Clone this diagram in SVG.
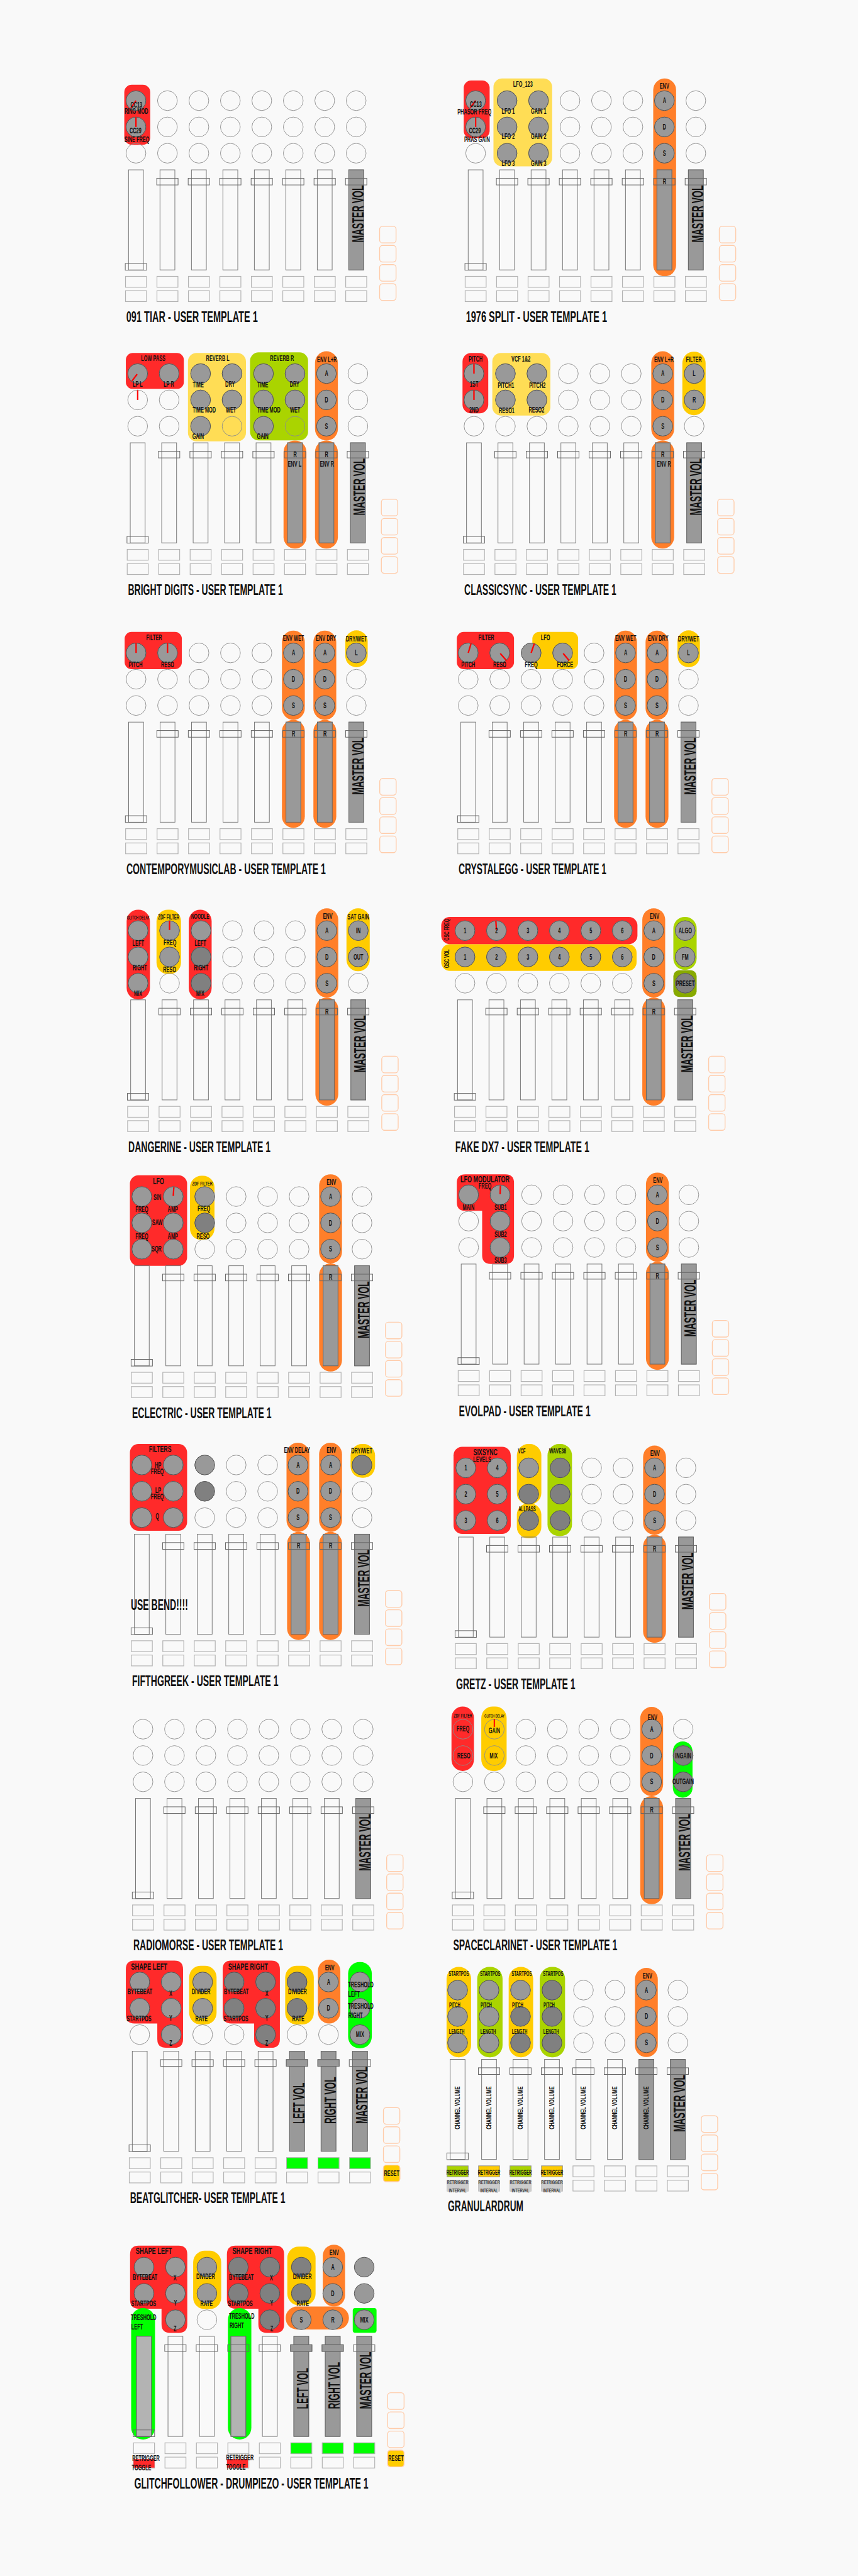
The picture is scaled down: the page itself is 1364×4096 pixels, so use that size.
<svg xmlns="http://www.w3.org/2000/svg" width="1364" height="4096" viewBox="0 0 1364 4096">
<style>
.k{fill:none;stroke:#8c8c8c;stroke-width:1}
.g{fill:#999;stroke:#4d4d4d;stroke-width:1}
.d{fill:#808080;stroke:#4d4d4d;stroke-width:1}
.f{fill:none;stroke:#777;stroke-width:1.1}
.gf{fill:#999;stroke:#666;stroke-width:1.1}
.lf{fill:#b3b3b3;stroke:#666;stroke-width:1.1}
.b{fill:none;stroke:#b3b3b3;stroke-width:1.3}
.sb{fill:none;stroke:#ffccaa;stroke-width:1.5}
.c{fill:none;stroke:#666;stroke-width:1.1}
.red{fill:#ff2a2a}.yl{fill:#ffdd55}.ys{fill:#ffcc00}.or{fill:#ff7f2a}.lg{fill:#aad400}.gr{fill:#00ff00}.ol{fill:#88aa00}
.p{stroke:#f00;stroke-width:2.5}
.t{font-family:"Liberation Sans",Arial,sans-serif;font-weight:bold;font-size:13.5px;text-anchor:middle;fill:#111;transform:scaleX(.6);transform-box:fill-box;transform-origin:center}
.T{font-family:"Liberation Sans",Arial,sans-serif;font-weight:bold;font-size:25.5px;fill:#111}
.v{font-family:"Liberation Sans",Arial,sans-serif;font-weight:bold;font-size:28px;fill:#111}
.vs{font-family:"Liberation Sans",Arial,sans-serif;font-weight:bold;font-size:11px;fill:#111;text-anchor:middle}
</style>
<defs>
<circle id="G" class="g" r="17.3"/>
<circle id="D" class="d" r="17.3"/>
<g id="kr" class="k"><circle r="17.3"/><circle cx="55" r="17.3"/><circle cx="110" r="17.3"/><circle cx="165" r="17.3"/><circle cx="220" r="17.3"/><circle cx="275" r="17.3"/><circle cx="330" r="17.3"/><circle cx="385" r="17.3"/></g>
<g id="kn"><use href="#kr"/><use href="#kr" y="46"/><use href="#kr" y="92"/></g>
<g id="col"><rect class="f" x="-13" y="121" width="26" height="175"/><rect class="b" x="-18.3" y="307.3" width="36.7" height="19"/><rect class="b" x="-18.3" y="332.3" width="36.7" height="19"/></g>
<g id="fa"><use href="#col"/><use href="#col" x="55"/><use href="#col" x="110"/><use href="#col" x="165"/><use href="#col" x="220"/><use href="#col" x="275"/><use href="#col" x="330"/><use href="#col" x="385"/>
<g class="sb"><rect x="426" y="219.7" width="28.7" height="29" rx="5"/><rect x="426" y="253.2" width="28.7" height="29" rx="5"/><rect x="426" y="286.7" width="28.7" height="29" rx="5"/><rect x="426" y="320.2" width="28.7" height="29" rx="5"/></g></g>
<g id="cp" class="c"><rect x="-18.7" y="284.7" width="37.3" height="11.7"/><rect x="36.3" y="135.7" width="37.3" height="11.7"/><rect x="91.3" y="135.7" width="37.3" height="11.7"/><rect x="146.3" y="135.7" width="37.3" height="11.7"/><rect x="201.3" y="135.7" width="37.3" height="11.7"/><rect x="256.3" y="135.7" width="37.3" height="11.7"/><rect x="311.3" y="135.7" width="37.3" height="11.7"/><rect x="366.3" y="135.7" width="37.3" height="11.7"/></g>
<rect id="gfd" class="gf" x="-13" y="121" width="26" height="175"/>
<g id="mv"><rect class="gf" x="372" y="121" width="26" height="175"/><text class="v" transform="translate(397.5 248) rotate(-90)" textLength="100" lengthAdjust="spacingAndGlyphs">MASTER VOL</text></g>
<g id="ads"><use href="#G"/><use href="#G" y="46"/><use href="#G" y="92"/><text class="t" y="4.6">A</text><text class="t" y="50.6">D</text><text class="t" y="96.6">S</text></g>
<g id="env3"><rect class="or" x="-20" y="-39" width="40" height="156" rx="20"/><use href="#ads"/></g>
<g id="ef"><rect class="or" x="-20" y="117" width="40" height="189" rx="20"/><use href="#gfd"/></g>
<path id="shL" class="red" d="M-9.3-37.4H60.7Q75.7-37.4 75.7-22.4V100Q75.7 115 60.7 115H45.7Q30.7 115 30.7 100V72.6H-9.3Q-24.3 72.6-24.3 57.6V-22.4Q-24.3-37.4-9.3-37.4Z"/>
<text id="cvt" class="vs" transform="translate(4 205.8) rotate(-90)" textLength="75" lengthAdjust="spacingAndGlyphs" style="font-size:12px">CHANNEL VOLUME</text>
</defs>
<rect width="1364" height="4096" fill="#f9f9f9"/>
<g transform="scale(0.909333)">

<g id="p1" transform="translate(237.7 176)">
<rect class="red" x="-20.4" y="-27.7" width="45.4" height="105" rx="13"/>
<use href="#kn"/><use href="#fa"/><use href="#mv"/><use href="#cp"/>
<use href="#G"/><use href="#G" y="46"/>
<line class="p" x1="0" y1="0" x2="-9" y2="13"/><line class="p" x1="0" y1="29" x2="0" y2="46"/>
<text class="t" x="0.6" y="11.9">CC13</text><text class="t" x="0.6" y="23.6">RING MOD</text><text class="t" x="-1" y="56.9">CC29</text><text class="t" x="1.6" y="72.6">SINE FREQ</text>
<text class="T" x="-17" y="387" textLength="230" lengthAdjust="spacingAndGlyphs">091 TIAR - USER TEMPLATE 1</text>
</g>

<g id="p2" transform="translate(831.5 176)">
<rect class="red" x="-20.8" y="-35.3" width="45.3" height="101" rx="13"/>
<rect class="yl" x="31.2" y="-38.7" width="102.6" height="153.7" rx="15"/>
<rect class="or" x="310.5" y="-38.7" width="40" height="346" rx="20"/>
<use href="#kn"/><use href="#fa"/><use href="#gfd" x="330"/><use href="#mv"/><use href="#cp"/>
<use href="#G"/><use href="#G" y="46"/>
<line class="p" x1="0" y1="0" x2="-9.5" y2="12.5"/><line class="p" x1="0" y1="29" x2="0" y2="46"/>
<text class="t" x="0.2" y="11.3">CC13</text><text class="t" x="-2.2" y="24.6">PHASOR FREQ</text><text class="t" x="-1.5" y="56.9">CC29</text><text class="t" x="2.5" y="72.6">PHAS GAIN</text>
<text class="t" x="82.5" y="-23.7">LFO_123</text>
<use href="#G" x="55"/><use href="#G" x="110"/><use href="#G" x="55" y="46"/><use href="#G" x="110" y="46"/><use href="#G" x="55" y="92"/><use href="#G" x="110" y="92"/>
<text class="t" x="57" y="23.6">LFO 1</text><text class="t" x="110" y="23.6">GAIN 1</text><text class="t" x="57" y="66.9">LFO 2</text><text class="t" x="110" y="66.9">GAIN 2</text><text class="t" x="57" y="114.3">LFO 3</text><text class="t" x="110" y="114.3">GAIN 3</text>
<text class="t" x="330" y="-20.7">ENV</text><use href="#ads" x="330"/>
<text class="t" x="330" y="146.1">R</text>
<text class="T" x="-17" y="387" textLength="246.7" lengthAdjust="spacingAndGlyphs">1976 SPLIT - USER TEMPLATE 1</text>
</g>

<g id="p3" transform="translate(240.7 653.3)">
<rect class="red" x="-20.7" y="-36" width="101.4" height="62.7" rx="12"/>
<rect class="yl" x="87.9" y="-36" width="101.4" height="154.4" rx="15"/>
<rect class="lg" x="196.4" y="-37.3" width="101.5" height="154" rx="15"/>
<use href="#kn"/><use href="#fa"/><use href="#ef" x="275"/><use href="#ef" x="330"/><use href="#mv"/><use href="#cp"/>
<use href="#env3" x="330"/><text class="t" x="330.7" y="-20.4">ENV L+R</text>
<use href="#G"/><use href="#G" x="55"/>
<line class="p" x1="-1" y1="1" x2="-10" y2="13"/><line class="p" x1="0" y1="29" x2="0" y2="46"/>
<text class="t" x="27.2" y="-22.1">LOW PASS</text><text class="t" x="0" y="23">LP L</text><text class="t" x="54.3" y="23">LP R</text>
<use href="#G" x="110"/><use href="#G" x="165"/><use href="#G" x="110" y="46"/><use href="#G" x="165" y="46"/><use href="#G" x="110" y="92"/>
<text class="t" x="140" y="-22.1">REVERB L</text>
<text class="t" x="105.7" y="24">TIME</text><text class="t" x="161.4" y="23">DRY</text><text class="t" x="116.4" y="68">TIME MOD</text><text class="t" x="162.9" y="68">WET</text><text class="t" x="105.7" y="114.6">GAIN</text>
<use href="#G" x="220"/><use href="#G" x="275"/><use href="#G" x="220" y="46"/><use href="#G" x="275" y="46"/><use href="#G" x="220" y="92"/>
<text class="t" x="252.2" y="-22.1">REVERB R</text>
<text class="t" x="218.6" y="24">TIME</text><text class="t" x="274.3" y="23">DRY</text><text class="t" x="229.3" y="68">TIME MOD</text><text class="t" x="275" y="68">WET</text><text class="t" x="218.6" y="114.6">GAIN</text>
<text class="t" x="275" y="146.1">R</text><text class="t" x="330" y="146.1">R</text>
<text class="t" x="274.3" y="163">ENV L</text><text class="t" x="330.7" y="163">ENV R</text>
<text class="T" x="-17" y="387" textLength="271" lengthAdjust="spacingAndGlyphs">BRIGHT DIGITS - USER TEMPLATE 1</text>
</g>

<g id="p4" transform="translate(828.6 653.3)">
<rect class="red" x="-20" y="-36" width="45" height="105.4" rx="15"/>
<rect class="yl" x="32.1" y="-36" width="101.5" height="109.4" rx="15"/>
<rect class="ys" x="364.3" y="-38.3" width="40.7" height="111" rx="20"/>
<use href="#kn"/><use href="#fa"/><use href="#ef" x="330"/><use href="#mv"/><use href="#cp"/>
<use href="#env3" x="330"/><text class="t" x="332" y="-20.4">ENV L+R</text>
<use href="#G"/><use href="#G" y="46"/>
<line class="p" x1="0" y1="-17" x2="0" y2="0"/><line class="p" x1="0" y1="29" x2="0" y2="46"/>
<text class="t" x="2.9" y="-21.1">PITCH</text><text class="t" y="23">1ST</text><text class="t" y="68">2ND</text>
<use href="#G" x="55"/><use href="#G" x="110"/><use href="#G" x="55" y="46"/><use href="#G" x="110" y="46"/>
<text class="t" x="82.1" y="-21.1">VCF 1&amp;2</text>
<text class="t" x="55.7" y="25.6">PITCH1</text><text class="t" x="110.7" y="25.6">PITCH2</text><text class="t" x="57.1" y="69">RESO1</text><text class="t" x="109.3" y="68">RESO2</text>
<text class="t" x="384.3" y="-20.4">FILTER</text>
<use href="#G" x="385"/><use href="#G" x="385" y="46"/><text class="t" x="385" y="4.6">L</text><text class="t" x="385" y="50.6">R</text>
<text class="t" x="330" y="146.1">R</text><text class="t" x="332" y="163">ENV R</text>
<text class="T" x="-17" y="387" textLength="266" lengthAdjust="spacingAndGlyphs">CLASSICSYNC - USER TEMPLATE 1</text>
</g>

<g id="p5" transform="translate(237.9 1141.7)">
<rect class="red" x="-20" y="-36.7" width="100" height="65" rx="12"/>
<rect class="ys" x="365.7" y="-39.4" width="39.2" height="64.4" rx="19.6"/>
<use href="#kn"/><use href="#fa"/><use href="#ef" x="275"/><use href="#ef" x="330"/><use href="#mv"/><use href="#cp"/>
<use href="#env3" x="275"/><use href="#env3" x="330"/>
<text class="t" x="275" y="-21.4">ENV WET</text><text class="t" x="332" y="-21.4">ENV DRY</text>
<use href="#G"/><use href="#G" x="55"/>
<line class="p" x1="0" y1="-17" x2="0" y2="0"/><line class="p" x1="55" y1="-17" x2="55" y2="0"/>
<text class="t" x="31.4" y="-22.1">FILTER</text><text class="t" x="-0.8" y="24.6">PITCH</text><text class="t" x="55" y="24.6">RESO</text>
<text class="t" x="385" y="-20.4">DRY/WET</text><use href="#G" x="385"/><text class="t" x="385" y="4.6">L</text>
<text class="t" x="275" y="146.1">R</text><text class="t" x="330" y="146.1">R</text>
<text class="T" x="-17" y="387" textLength="348.6" lengthAdjust="spacingAndGlyphs">CONTEMPORYMUSICLAB - USER TEMPLATE 1</text>
</g>

<g id="p6" transform="translate(818.6 1141.7)">
<rect class="red" x="-20" y="-36.7" width="100" height="65" rx="12"/>
<rect class="ys" x="112.1" y="-36.7" width="80" height="65" rx="12"/>
<rect class="ys" x="365.7" y="-39.4" width="39.3" height="64.4" rx="19.6"/>
<use href="#kn"/><use href="#fa"/><use href="#ef" x="275"/><use href="#ef" x="330"/><use href="#mv"/><use href="#cp"/>
<use href="#env3" x="275"/><use href="#env3" x="330"/>
<text class="t" x="275" y="-21.4">ENV WET</text><text class="t" x="332" y="-21.4">ENV DRY</text>
<use href="#G"/><use href="#G" x="55"/><use href="#G" x="110"/><use href="#G" x="165"/>
<line class="p" x1="0" y1="0" x2="5" y2="-16.5"/><line class="p" x1="56" y1="1" x2="67" y2="13.5"/><line class="p" x1="110" y1="0" x2="115.5" y2="-16.3"/><line class="p" x1="166" y1="1" x2="176.5" y2="13.5"/>
<text class="t" x="31.4" y="-22.1">FILTER</text><text class="t" y="24.6">PITCH</text><text class="t" x="55" y="24.6">RESO</text>
<text class="t" x="135" y="-22.1">LFO</text><text class="t" x="110" y="24.6">FREQ</text><text class="t" x="169.3" y="24.6">FORCE</text>
<text class="t" x="385" y="-20.4">DRY/WET</text><use href="#G" x="385"/><text class="t" x="385" y="4.6">L</text>
<text class="t" x="275" y="146.1">R</text><text class="t" x="330" y="146.1">R</text>
<text class="T" x="-17" y="387" textLength="258.6" lengthAdjust="spacingAndGlyphs">CRYSTALEGG - USER TEMPLATE 1</text>
</g>

<g id="p7" transform="translate(241.4 1627.3)">
<rect class="red" x="-20" y="-36.6" width="40.7" height="157" rx="20"/>
<rect class="ys" x="32.2" y="-36.6" width="42.8" height="112.6" rx="20"/>
<rect class="red" x="88.6" y="-36.6" width="40" height="157" rx="20"/>
<rect class="ys" x="364.3" y="-39" width="40.7" height="110" rx="20"/>
<use href="#kn"/><use href="#fa"/><use href="#ef" x="330"/><use href="#mv"/><use href="#cp"/>
<use href="#env3" x="330"/><text class="t" x="331.5" y="-20.4">ENV</text>
<use href="#G"/><use href="#G" y="46"/><use href="#G" y="92"/>
<text class="t" y="-20" style="font-size:9px">GLITCH DELAY</text>
<text class="t" y="26.3">LEFT</text><text class="t" x="2.9" y="69.6">RIGHT</text><text class="t" y="115">MIX</text>
<use href="#G" x="55"/><use href="#G" x="55" y="46"/><line class="p" x1="55" y1="-17" x2="55" y2="-1"/>
<text class="t" x="53.6" y="-20" style="font-size:11px">ZDF FILTER</text>
<text class="t" x="55.7" y="25.6">FREQ</text><text class="t" x="55" y="73.3">RESO</text>
<use href="#G" x="110"/><use href="#D" x="110" y="46"/><use href="#D" x="110" y="92"/>
<text class="t" x="108.6" y="-21" style="font-size:12.5px">NOODLE</text>
<text class="t" x="108.6" y="26.3">LEFT</text><text class="t" x="110" y="69.6">RIGHT</text><text class="t" x="108.6" y="115">MIX</text>
<text class="t" x="385" y="-20">SAT GAIN</text>
<use href="#G" x="385"/><use href="#G" x="385" y="46"/><text class="t" x="385" y="4.6">IN</text><text class="t" x="385" y="50.6">OUT</text>
<text class="t" x="330" y="146.1">R</text>
<text class="T" x="-17" y="387" textLength="248.6" lengthAdjust="spacingAndGlyphs">DANGERINE - USER TEMPLATE 1</text>
</g>

<g id="p8" transform="translate(812.9 1627.3)">
<rect class="ys" x="-41.5" y="23.7" width="341.5" height="46.6" rx="15"/>
<rect class="red" x="-41.5" y="-24" width="343" height="47.7" rx="15"/>
<rect class="lg" x="364.3" y="-24" width="40.7" height="92.7" rx="20"/>
<rect class="ol" x="364.3" y="69.4" width="40.7" height="46.6" rx="10"/>
<use href="#kn"/><use href="#fa"/><use href="#ef" x="330"/><use href="#mv"/><use href="#cp"/>
<use href="#env3" x="330"/><text class="t" x="331.4" y="-20.4">ENV</text>
<use href="#G"/><use href="#G" x="55"/><use href="#G" x="110"/><use href="#G" x="165"/><use href="#G" x="220"/><use href="#G" x="275"/>
<use href="#G" y="46"/><use href="#G" x="55" y="46"/><use href="#G" x="110" y="46"/><use href="#G" x="165" y="46"/><use href="#G" x="220" y="46"/><use href="#G" x="275" y="46"/>
<line class="p" x1="54" y1="-17" x2="55" y2="-1"/>
<text class="t" y="4.6">1</text><text class="t" x="55" y="4.6">2</text><text class="t" x="110" y="4.6">3</text><text class="t" x="165" y="4.6">4</text><text class="t" x="220" y="4.6">5</text><text class="t" x="275" y="4.6">6</text>
<text class="t" y="50.6">1</text><text class="t" x="55" y="50.6">2</text><text class="t" x="110" y="50.6">3</text><text class="t" x="165" y="50.6">4</text><text class="t" x="220" y="50.6">5</text><text class="t" x="275" y="50.6">6</text>
<text class="vs" transform="translate(-28 -1.5) rotate(-90)" textLength="38" lengthAdjust="spacingAndGlyphs">OSC FREQ</text>
<text class="vs" transform="translate(-28 49) rotate(-90)" textLength="33" lengthAdjust="spacingAndGlyphs">OSC VOL</text>
<use href="#G" x="385"/><use href="#G" x="385" y="46"/><use href="#D" x="385" y="92"/>
<text class="t" x="385" y="4.6">ALGO</text><text class="t" x="385" y="50.6">FM</text><text class="t" x="385" y="96.6">PRESET</text>
<text class="t" x="330" y="146.1">R</text>
<text class="T" x="-17" y="387" textLength="234.3" lengthAdjust="spacingAndGlyphs">FAKE DX7 - USER TEMPLATE 1</text>
</g>

<g id="p9" transform="translate(247.9 2092.3)">
<rect class="red" x="-20.8" y="-37.3" width="100" height="158.3" rx="15"/>
<rect class="ys" x="84.2" y="-36.3" width="42.9" height="112.3" rx="20"/>
<use href="#kn"/><use href="#fa"/><use href="#ef" x="330"/><use href="#mv"/><use href="#cp"/>
<use href="#env3" x="330"/><text class="t" x="331.4" y="-20.4">ENV</text>
<use href="#G"/><use href="#G" x="55"/><use href="#G" y="46"/><use href="#G" x="55" y="46"/><use href="#G" y="92"/><use href="#G" x="55" y="92"/>
<line class="p" x1="56" y1="-16" x2="55" y2="-1"/>
<text class="t" x="29.2" y="-21.6" style="font-size:16px">LFO</text>
<text class="t" x="27.1" y="5.6">SIN</text><text class="t" y="27.3">FREQ</text><text class="t" x="54.2" y="27.3">AMP</text>
<text class="t" x="27.1" y="49.6">SAW</text><text class="t" y="74.6">FREQ</text><text class="t" x="54.2" y="74.6">AMP</text><text class="t" x="25.7" y="96.6">SQR</text>
<use href="#G" x="110"/><use href="#D" x="110" y="46"/>
<text class="t" x="105.7" y="-19.4" style="font-size:10.5px">ZDF FILTER</text>
<text class="t" x="108.5" y="25.6">FREQ</text><text class="t" x="107.1" y="74.6">RESO</text>
<text class="t" x="330" y="146.1">R</text>
<text class="T" x="-17" y="387" textLength="243.6" lengthAdjust="spacingAndGlyphs">ECLECTRIC - USER TEMPLATE 1</text>
</g>

<g id="p10" transform="translate(819.3 2089.3)">
<path class="red" d="M-5.7-36H64.3Q79.3-36 79.3-21V105.7Q79.3 120.7 64.3 120.7H38.6Q23.6 120.7 23.6 105.7V28H-5.7Q-20.7 28-20.7 13V-21Q-20.7-36-5.7-36Z"/>
<use href="#kn"/><use href="#fa"/><use href="#ef" x="330"/><use href="#mv"/><use href="#cp"/>
<use href="#env3" x="330"/><text class="t" x="330.7" y="-20.7">ENV</text>
<use href="#G"/><use href="#G" x="55"/><use href="#G" x="55" y="46"/><use href="#G" x="55" y="92"/>
<line class="p" x1="55.5" y1="-16" x2="55" y2="-1"/>
<text class="t" x="28.6" y="-21.5" style="font-size:16.5px">LFO MODULATOR</text>
<text class="t" x="28.6" y="-10.4">FREQ</text><text class="t" y="27">MAIN</text><text class="t" x="55.7" y="27">SUB1</text><text class="t" x="55.7" y="73.6">SUB2</text><text class="t" x="55.7" y="119.3">SUB3</text>
<text class="t" x="330" y="146.1">R</text>
<text class="T" x="-17" y="387" textLength="230" lengthAdjust="spacingAndGlyphs">EVOLPAD - USER TEMPLATE 1</text>
</g>

<g id="p11" transform="translate(247.9 2561.7)">
<rect class="red" x="-20.8" y="-36.7" width="100" height="151.7" rx="15"/>
<rect class="ys" x="365" y="-36.7" width="42.8" height="59" rx="20"/>
<use href="#kn"/><use href="#fa"/><use href="#ef" x="274"/><use href="#ef" x="330"/><use href="#mv"/><use href="#cp"/>
<use href="#env3" x="273"/><use href="#env3" x="330"/>
<text class="t" x="271.4" y="-21.1">ENV DELAY</text><text class="t" x="331.4" y="-21.1">ENV</text>
<use href="#G"/><use href="#G" x="55"/><use href="#G" y="46"/><use href="#G" x="55" y="46"/><use href="#G" y="92"/><use href="#G" x="55" y="92"/>
<text class="t" x="32.1" y="-22" style="font-size:16px">FILTERS</text>
<text class="t" x="28.5" y="4.6">HP</text><text class="t" x="27.1" y="16.2">FREQ</text><text class="t" x="28.5" y="48.9">LP</text><text class="t" x="27.1" y="60.2">FREQ</text><text class="t" x="27.1" y="94.6">Q</text>
<use href="#G" x="110"/><use href="#D" x="110" y="46"/>
<text class="t" x="384.3" y="-20.4">DRY/WET</text><use href="#D" x="385"/>
<text class="t" x="274" y="146.1">R</text><text class="t" x="330" y="146.1">R</text>
<text class="T" x="-19.3" y="253.3" textLength="100" lengthAdjust="spacingAndGlyphs">USE BEND!!!!</text>
<text class="T" x="-17" y="387" textLength="255.7" lengthAdjust="spacingAndGlyphs">FIFTHGREEK - USER TEMPLATE 1</text>
</g>

<g id="p12" transform="translate(814.3 2566.7)">
<rect class="red" x="-21.4" y="-36.7" width="100" height="152.3" rx="15"/>
<rect class="ys" x="89.3" y="-41.7" width="42.8" height="105.7" rx="20"/>
<rect class="ys" x="89.3" y="62" width="42.8" height="61.3" rx="20"/>
<rect class="lg" x="142.9" y="-41.7" width="42.8" height="161" rx="20"/>
<use href="#kn"/><use href="#fa"/><use href="#ef" x="330"/><use href="#mv"/><use href="#cp"/>
<use href="#env3" x="330"/><text class="t" x="330.7" y="-20.4">ENV</text>
<use href="#G"/><use href="#G" x="55"/><use href="#G" y="46"/><use href="#G" x="55" y="46"/><use href="#G" y="92"/><use href="#G" x="55" y="92"/>
<text class="t" y="4.6">1</text><text class="t" x="55" y="4.6">4</text><text class="t" y="50.6">2</text><text class="t" x="55" y="50.6">5</text><text class="t" y="96.6">3</text><text class="t" x="55" y="96.6">6</text>
<text class="t" x="34.3" y="-21.8" style="font-size:16px">SIXSYNC</text><text class="t" x="28.6" y="-10.4">LEVELS</text>
<use href="#G" x="110"/><use href="#D" x="110" y="46"/><use href="#D" x="110" y="92"/>
<text class="t" x="97.9" y="-25.4" style="font-size:11px">VCF</text><text class="t" x="107.1" y="76.2" style="font-size:11px">ALLPASS</text>
<use href="#D" x="165"/><use href="#D" x="165" y="46"/><use href="#D" x="165" y="92"/>
<text class="t" x="160.7" y="-24.8" style="font-size:12.5px">WAVE38</text>
<text class="t" x="330" y="146.1">R</text>
<text class="T" x="-17" y="387" textLength="208.6" lengthAdjust="spacingAndGlyphs">GRETZ - USER TEMPLATE 1</text>
</g>

<g id="p13" transform="translate(250 3023.7)">
<use href="#kn"/><use href="#fa"/><use href="#mv"/><use href="#cp"/>
<text class="T" x="-17" y="387" textLength="262" lengthAdjust="spacingAndGlyphs">RADIOMORSE - USER TEMPLATE 1</text>
</g>

<g id="p14" transform="translate(809.3 3023.7)">
<rect class="red" x="-20" y="-39.7" width="39.3" height="112.7" rx="19.6"/>
<rect class="ys" x="32.1" y="-39.7" width="44.3" height="112.7" rx="20"/>
<rect class="gr" x="367.1" y="21.3" width="34.3" height="98.4" rx="17"/>
<use href="#kn"/><use href="#fa"/><use href="#ef" x="330"/><use href="#mv"/><use href="#cp"/>
<use href="#env3" x="330"/><text class="t" x="331.4" y="-15.8">ENV</text>
<text class="t" y="-20.8" style="font-size:9.5px">ZDF FILTER</text><text class="t" y="4.2">FREQ</text><text class="t" x="1.4" y="51.6">RESO</text>
<line class="p" x1="55" y1="-18" x2="55" y2="-4"/>
<text class="t" x="55" y="-20.8" style="font-size:8px">GLITCH DELAY</text><text class="t" x="55" y="7.6">GAIN</text><text class="t" x="53.6" y="51.6">MIX</text>
<use href="#D" x="385" y="46"/><use href="#D" x="385" y="92"/>
<text class="t" x="385" y="50.6">INGAIN</text><text class="t" x="385" y="96.6">OUTGAIN</text>
<text class="t" x="330" y="146.1">R</text>
<text class="T" x="-17" y="387" textLength="287" lengthAdjust="spacingAndGlyphs">SPACECLARINET - USER TEMPLATE 1</text>
</g>

<g id="p15" transform="translate(244.3 3465.7)">
<use href="#shL"/>
<rect class="ys" x="86.4" y="-28.4" width="47.9" height="102.7" rx="20"/>
<use href="#shL" x="169.3"/>
<rect class="ys" x="254.3" y="-28.4" width="50" height="102.7" rx="20"/>
<rect class="or" x="311.4" y="-39" width="39.3" height="111.6" rx="19.6"/>
<rect class="gr" x="364.3" y="-35" width="41.4" height="151" rx="20"/>
<use href="#kn"/><use href="#fa"/><use href="#gfd" x="275"/><use href="#gfd" x="330"/><use href="#mv"/><use href="#cp"/>
<rect class="gf" x="256.3" y="135.7" width="37.3" height="11.7"/><rect class="gf" x="311.3" y="135.7" width="37.3" height="11.7"/>
<text class="v" transform="translate(287.5 248) rotate(-90)" textLength="72" lengthAdjust="spacingAndGlyphs">LEFT VOL</text>
<text class="v" transform="translate(342.5 248) rotate(-90)" textLength="82" lengthAdjust="spacingAndGlyphs">RIGHT VOL</text>
<use href="#G"/><use href="#G" x="55"/><use href="#G" y="46"/><use href="#G" x="55" y="46"/><use href="#G" x="55" y="92"/>
<text class="t" x="16.4" y="-21.7" style="font-size:17px">SHAPE LEFT</text>
<text class="t" y="21.6">BYTEBEAT</text><text class="t" x="54.3" y="24.9">X</text><text class="t" x="-1.4" y="68.9">STARTPOS</text><text class="t" x="54.3" y="67.2">Y</text><text class="t" x="54.3" y="112.2">Z</text>
<use href="#G" x="110"/><use href="#G" x="110" y="46"/>
<text class="t" x="107.1" y="21.6">DIVIDER</text><text class="t" x="107.9" y="68.9">RATE</text>
<use href="#D" x="165"/><use href="#D" x="165" y="46"/><use href="#D" x="220"/><use href="#D" x="220" y="46"/><use href="#D" x="220" y="92"/>
<text class="t" x="189.3" y="-21.7" style="font-size:17px">SHAPE RIGHT</text>
<text class="t" x="168.6" y="21.6">BYTEBEAT</text><text class="t" x="222.1" y="24.9">X</text><text class="t" x="167.9" y="68.9">STARTPOS</text><text class="t" x="222.1" y="67.2">Y</text><text class="t" x="222.1" y="112.2">Z</text>
<use href="#D" x="275"/><use href="#D" x="275" y="46"/>
<text class="t" x="275.7" y="21.6">DIVIDER</text><text class="t" x="277.1" y="68.9">RATE</text>
<use href="#G" x="330"/><use href="#G" x="330" y="46"/>
<text class="t" x="332.1" y="-20.4">ENV</text><text class="t" x="330" y="4.6">A</text><text class="t" x="330" y="50.6">D</text>
<use href="#G" x="385"/><use href="#G" x="385" y="46"/><use href="#G" x="385" y="92"/>
<text class="t" x="386.4" y="8.9">TRESHOLD</text><text class="t" x="374.3" y="25.6">LEFT</text><text class="t" x="386.4" y="46.6">TRESHOLD</text><text class="t" x="377" y="63.2">RIGHT</text><text class="t" x="385" y="96.6">MIX</text>
<rect class="gr" x="256.7" y="307.3" width="36.7" height="19" stroke="#b3b3b3"/><rect class="gr" x="311.7" y="307.3" width="36.7" height="19" stroke="#b3b3b3"/><rect class="gr" x="366.7" y="307.3" width="36.7" height="19" stroke="#b3b3b3"/>
<rect class="ys" x="426" y="320.2" width="28.7" height="29" rx="5" stroke="#ffccaa" stroke-width="1.5"/>
<text class="t" x="440.3" y="339.3">RESET</text>
<text class="T" x="-17" y="387" textLength="271.4" lengthAdjust="spacingAndGlyphs">BEATGLITCHER- USER TEMPLATE 1</text>
</g>

<g id="p16" transform="translate(800 3480)">
<rect class="ys" x="-19.3" y="-40.7" width="42.9" height="158" rx="21"/>
<rect class="lg" x="34.3" y="-40.7" width="44.3" height="158" rx="21"/>
<rect class="ys" x="89.3" y="-40.7" width="42.8" height="158" rx="21"/>
<rect class="lg" x="143.6" y="-40.7" width="44.3" height="158" rx="21"/>
<use href="#kn"/><use href="#fa"/><use href="#gfd" x="330"/><use href="#mv"/><use href="#cp"/>
<use href="#env3" x="330"/><text class="t" x="332" y="-20.4">ENV</text>
<use href="#G"/><use href="#G" y="46"/><use href="#G" y="92"/><use href="#G" x="55"/><use href="#G" x="55" y="46"/><use href="#G" x="55" y="92"/><use href="#G" x="110"/>
<use href="#D" x="110" y="46"/><use href="#D" x="110" y="92"/><use href="#D" x="165"/><use href="#D" x="165" y="46"/><use href="#D" x="165" y="92"/>
<g style="font-size:11px">
<text class="t" x="2" y="-24.4" style="font-size:11px">STARTPOS</text><text class="t" x="57" y="-24.4" style="font-size:11px">STARTPOS</text><text class="t" x="112" y="-24.4" style="font-size:11px">STARTPOS</text><text class="t" x="167" y="-24.4" style="font-size:11px">STARTPOS</text>
<text class="t" x="-5" y="30.6" style="font-size:11px">PITCH</text><text class="t" x="50" y="30.6" style="font-size:11px">PITCH</text><text class="t" x="105" y="30.6" style="font-size:11px">PITCH</text><text class="t" x="160" y="30.6" style="font-size:11px">PITCH</text>
<text class="t" x="-1.5" y="76.9" style="font-size:11px">LENGTH</text><text class="t" x="53.5" y="76.9" style="font-size:11px">LENGTH</text><text class="t" x="108.5" y="76.9" style="font-size:11px">LENGTH</text><text class="t" x="163.5" y="76.9" style="font-size:11px">LENGTH</text>
</g>
<use href="#cvt"/><use href="#cvt" x="55"/><use href="#cvt" x="110"/><use href="#cvt" x="165"/><use href="#cvt" x="220"/><use href="#cvt" x="275"/><use href="#cvt" x="330"/>
<rect class="lg" x="-18.3" y="307.3" width="36.7" height="19" stroke="#999"/><rect class="ys" x="36.7" y="307.3" width="36.7" height="19" stroke="#999"/><rect class="lg" x="91.7" y="307.3" width="36.7" height="19" stroke="#999"/><rect class="ys" x="146.7" y="307.3" width="36.7" height="19" stroke="#999"/>
<text class="t" y="322.5" style="font-size:11px">RETRIGGER</text><text class="t" x="55" y="322.5" style="font-size:11px">RETRIGGER</text><text class="t" x="110" y="322.5" style="font-size:11px">RETRIGGER</text><text class="t" x="165" y="322.5" style="font-size:11px">RETRIGGER</text>
<g fill="#ccc"><rect x="-18.3" y="331.7" width="36.7" height="20"/><rect x="36.7" y="331.7" width="36.7" height="20"/><rect x="91.7" y="331.7" width="36.7" height="20"/><rect x="146.7" y="331.7" width="36.7" height="20"/></g>
<text class="t" y="339.4" style="font-size:10.5px;fill:#333">RETRIGGER</text><text class="t" x="55" y="339.4" style="font-size:10.5px;fill:#333">RETRIGGER</text><text class="t" x="110" y="339.4" style="font-size:10.5px;fill:#333">RETRIGGER</text><text class="t" x="165" y="339.4" style="font-size:10.5px;fill:#333">RETRIGGER</text>
<text class="t" y="353.2" style="font-size:10.5px;fill:#333">INTERVAL</text><text class="t" x="55" y="353.2" style="font-size:10.5px;fill:#333">INTERVAL</text><text class="t" x="110" y="353.2" style="font-size:10.5px;fill:#333">INTERVAL</text><text class="t" x="165" y="353.2" style="font-size:10.5px;fill:#333">INTERVAL</text>
<text class="T" x="-17" y="387" textLength="132" lengthAdjust="spacingAndGlyphs">GRANULARDRUM</text>
</g>

<g id="p17" transform="translate(251.7 3964.3)">
<use href="#shL"/>
<rect class="ys" x="86" y="-28.6" width="49" height="102" rx="20"/>
<use href="#shL" x="169.3"/>
<rect class="ys" x="250.6" y="-36" width="49.4" height="102.7" rx="20"/>
<rect class="or" x="312.6" y="-39.3" width="39" height="108.3" rx="19.5"/>
<rect class="or" x="247.6" y="69" width="110.7" height="40" rx="20"/>
<rect class="gr" x="365" y="71.7" width="41.6" height="43" rx="4"/>
<rect class="gr" x="-22.4" y="71.7" width="41.7" height="229.7" rx="20.8"/>
<rect class="gr" x="146.7" y="71.7" width="41" height="229.7" rx="20.5"/>
<circle class="k" cx="110" cy="92" r="17.3"/>
<use href="#fa"/>
<rect class="lf" x="-13" y="121" width="26" height="175"/><rect class="lf" x="152" y="121" width="26" height="175"/>
<use href="#gfd" x="275"/><use href="#gfd" x="330"/><use href="#mv"/><use href="#cp"/>
<rect class="gf" x="256.3" y="135.7" width="37.3" height="11.7"/><rect class="gf" x="311.3" y="135.7" width="37.3" height="11.7"/>
<text class="v" transform="translate(287.5 248) rotate(-90)" textLength="72" lengthAdjust="spacingAndGlyphs">LEFT VOL</text>
<text class="v" transform="translate(342.5 248) rotate(-90)" textLength="82" lengthAdjust="spacingAndGlyphs">RIGHT VOL</text>
<use href="#G"/><use href="#G" x="55"/><use href="#G" y="46"/><use href="#G" x="55" y="46"/><use href="#G" x="55" y="92"/>
<text class="t" x="17.3" y="-22.6" style="font-size:17px">SHAPE LEFT</text>
<text class="t" x="1.6" y="22">BYTEBEAT</text><text class="t" x="54.3" y="23.6">X</text><text class="t" x="-0.7" y="68.6">STARTPOS</text><text class="t" x="55" y="66.9">Y</text><text class="t" x="54.3" y="112">Z</text>
<use href="#G" x="110"/><use href="#G" x="110" y="46"/>
<text class="t" x="107.6" y="21.3">DIVIDER</text><text class="t" x="109.3" y="67.9">RATE</text>
<use href="#D" x="165"/><use href="#D" x="165" y="46"/><use href="#D" x="220"/><use href="#D" x="220" y="46"/><use href="#D" x="220" y="92"/>
<text class="t" x="189.3" y="-22.6" style="font-size:17px">SHAPE RIGHT</text>
<text class="t" x="170" y="22">BYTEBEAT</text><text class="t" x="222.6" y="23.6">X</text><text class="t" x="168.3" y="68.6">STARTPOS</text><text class="t" x="223.3" y="66.9">Y</text><text class="t" x="223.3" y="112">Z</text>
<use href="#D" x="275"/><use href="#D" x="275" y="46"/>
<text class="t" x="276.6" y="21.3">DIVIDER</text><text class="t" x="277.6" y="67.9">RATE</text>
<use href="#G" x="275" y="92"/><use href="#G" x="330"/><use href="#G" x="330" y="46"/><use href="#G" x="330" y="92"/>
<text class="t" x="332.6" y="-20.4">ENV</text><text class="t" x="330" y="4.6">A</text><text class="t" x="330" y="50.6">D</text><text class="t" x="275" y="96.6">S</text><text class="t" x="330" y="96.6">R</text>
<use href="#G" x="385"/><use href="#G" x="385" y="46"/><use href="#G" x="385" y="92"/><text class="t" x="385" y="96.6">MIX</text>
<text class="t" x="-0.7" y="92">TRESHOLD</text><text class="t" x="-12.2" y="109.3">LEFT</text>
<text class="t" x="171" y="90.3">TRESHOLD</text><text class="t" x="162" y="107">RIGHT</text>
<rect class="gr" x="256.7" y="307.3" width="36.7" height="19" stroke="#b3b3b3"/><rect class="gr" x="311.7" y="307.3" width="36.7" height="19" stroke="#b3b3b3"/><rect class="gr" x="366.7" y="307.3" width="36.7" height="19" stroke="#b3b3b3"/>
<rect class="red" x="-18.3" y="335.7" width="36.7" height="15"/><rect class="red" x="145" y="335.7" width="36.7" height="15"/>
<text class="t" x="3.3" y="338.6">RETRIGGER</text><text class="t" x="-4.3" y="355.3">TOGGLE</text>
<text class="t" x="167.6" y="337.6">RETRIGGER</text><text class="t" x="160.6" y="354.3">TOGGLE</text>
<rect class="ys" x="426" y="320.2" width="28.7" height="29" rx="5" stroke="#ffccaa" stroke-width="1.5"/>
<text class="t" x="440.3" y="339.3">RESET</text>
<text class="T" x="-17" y="387" textLength="409.3" lengthAdjust="spacingAndGlyphs">GLITCHFOLLOWER - DRUMPIEZO - USER TEMPLATE 1</text>
</g>

</g>
</svg>
